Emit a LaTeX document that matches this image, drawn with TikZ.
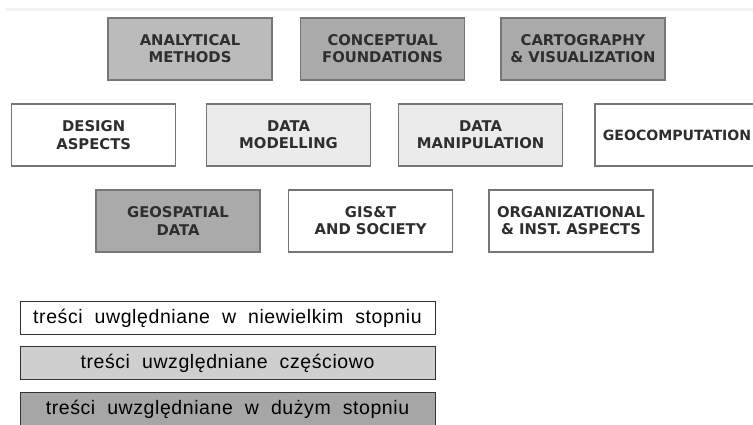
\documentclass[tikz,border=0pt]{standalone}
\usepackage{fontspec}
\usetikzlibrary{positioning}
\newfontfamily\boxfont{DejaVu Sans}
\newfontfamily\legendfont[LetterSpace=3,WordSpace=2.0]{Liberation Sans}
\definecolor{lowgray}{HTML}{FFFFFF}
\definecolor{midgray}{HTML}{EBEBEB}
\definecolor{anagray}{HTML}{BBBBBB}
\definecolor{highgray}{HTML}{AAAAAA}
\definecolor{edgegray}{HTML}{767676}
\definecolor{textgray}{HTML}{2E2E2E}
\definecolor{legmid}{HTML}{CFCFCF}
\definecolor{leghigh}{HTML}{A6A6A6}

\begin{document}
\begin{tikzpicture}[x=1pt,y=-1pt,
    topic/.style={draw=edgegray,line width=1.4pt,minimum width=164pt,minimum height=62pt,
        inner sep=0pt,align=center,text=textgray,
        font=\boxfont\bfseries\fontsize{14.8}{17.3}\selectfont},
    legend/.style={draw=black!80,line width=1pt,minimum width=415pt,minimum height=33pt,
        inner sep=0pt,font=\legendfont\fontsize{19.5}{22}\selectfont}]
%\draw[help lines] (0,0) grid[step=50] (753,425);
\useasboundingbox (0,0) rectangle (753,425);
\clip (0,0) rectangle (753,425);
\draw[color=black!5,line width=3pt] (6,9.5) -- (753,9.5);
% first row
\node[topic,fill=anagray] (AM) at (190,48.9) {ANALYTICAL\\METHODS};
\node[topic,fill=highgray] (CF) at (382.6,48.9) {CONCEPTUAL\\FOUNDATIONS};
\node[topic,fill=highgray] (CV) at (583,48.9) {CARTOGRAPHY\\\& VISUALIZATION};
% second row
\node[topic,fill=lowgray] (DA) at (93.7,135) {DESIGN\\ASPECTS};
\node[topic,fill=midgray] (DMo) at (288.5,135) {DATA\\MODELLING};
\node[topic,fill=midgray] (DMa) at (480.6,135) {DATA\\MANIPULATION};
\node[topic,fill=lowgray,font=\boxfont\bfseries\fontsize{14.1}{17.3}\selectfont] (GC) at (677,135) {GEOCOMPUTATION};
% third row
\node[topic,fill=highgray] (GD) at (178,220.9) {GEOSPATIAL\\DATA};
\node[topic,fill=lowgray] (GS) at (370.6,220.9) {GIS\&T\\AND SOCIETY};
\node[topic,fill=lowgray] (OI) at (571,220.9) {ORGANIZATIONAL\\\& INST. ASPECTS};
% legend
\node[legend,fill=lowgray] (L1) at (227.5,318) {treści uwględniane w niewielkim stopniu};
\node[legend,fill=legmid] (L2) at (227.5,363.3) {treści uwzględniane częściowo};
\node[legend,fill=leghigh] (L3) at (227.5,409) {treści uwzględniane w dużym stopniu};
\end{tikzpicture}
\end{document}
